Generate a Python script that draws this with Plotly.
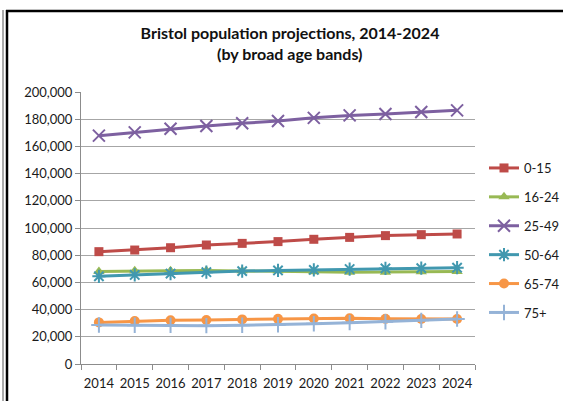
import plotly.graph_objects as go

years = ["2014", "2015", "2016", "2017", "2018", "2019", "2020", "2021", "2022", "2023", "2024"]
age_0_15 = [82600, 83800, 85500, 87500, 88700, 90000, 91700, 93100, 94400, 95100, 95600]
age_16_24 = [68000, 68500, 68500, 68700, 68500, 68500, 67800, 67500, 67500, 67800, 68000]
age_25_49 = [167900, 170300, 173000, 175000, 177000, 178700, 181000, 182800, 183800, 185300, 186500]
age_50_64 = [64500, 65500, 66500, 67500, 68300, 68800, 69200, 69800, 70300, 70500, 70800]
age_65_74 = [30600, 31600, 32200, 32400, 32800, 33200, 33500, 33700, 33200, 33100, 33100]
age_75p = [28700, 28500, 28500, 28200, 28500, 28900, 29600, 30400, 31100, 32100, 33100]

title_line1 = "Bristol population projections, 2014-2024"
title_line2 = "(by broad age bands)"

series = [
    ("0-15", age_0_15, "#BE4B48", "square", 9, 0),
    ("16-24", age_16_24, "#98B954", "triangle-up", 10, 0),
    ("25-49", age_25_49, "#7D60A0", "x-thin-open", 12, 2),
    ("50-64", age_50_64, "#4198AF", "asterisk-open", 11, 2),
    ("65-74", age_65_74, "#F79646", "circle", 10, 0),
    ("75+", age_75p, "#95B3D7", "cross-thin-open", 11, 2),
]

fig = go.Figure()
for i, (name, vals, col, sym, sz, lw) in enumerate(series):
    mk = dict(symbol=sym, size=sz, color=col)
    if lw:
        mk["line"] = dict(color=col, width=lw)
    fig.add_trace(go.Scatter(
        x=years, y=vals, name=name, mode="lines+markers",
        line=dict(color=col, width=3), marker=mk, legendgroup=str(i)
    ))

L, R, T, B = 81, 475, 92, 364
W, H = 563, 401

def px(x):
    return (x - L) / (R - L)

def py(y):
    return (B - y) / (B - T)

shapes = [
    dict(type="line", xref="paper", yref="paper", x0=px(3), x1=px(3), y0=py(10), y1=py(401),
         line=dict(color="#555555", width=1)),
    dict(type="line", xref="paper", yref="paper", x0=px(7), x1=px(7), y0=py(10), y1=py(401),
         line=dict(color="black", width=2.5)),
    dict(type="line", xref="paper", yref="paper", x0=px(6), x1=px(563), y0=py(11), y1=py(11),
         line=dict(color="black", width=2.5)),
]

tfont = dict(size=16, color="#111111", family="Lato, sans-serif", weight="bold")
annotations = [
    dict(text=title_line2, xref="paper", yref="paper", x=px(290), y=py(53),
         xanchor="center", yanchor="middle", showarrow=False, font=tfont),
]

fig.update_layout(
    width=W, height=H,
    margin=dict(l=L, r=W - R, t=T, b=H - B, autoexpand=False),
    paper_bgcolor="white", plot_bgcolor="white",
    font=dict(family="Lato, 'Open Sans', sans-serif", color="#1a1a1a", size=13),
    title=dict(text=title_line1, x=290 / W, xanchor="center",
               y=1 - 33 / H, yanchor="middle", font=tfont),
    annotations=annotations,
    showlegend=True,
    legend=dict(x=px(484), xanchor="left", y=py(153), yanchor="top",
                font=dict(size=13, color="#1a1a1a"), tracegroupgap=9,
                traceorder="grouped", bgcolor="rgba(0,0,0,0)", itemwidth=30),
    shapes=shapes,
)
fig.update_xaxes(type="category", range=[-0.5, 10.5], showgrid=False, showline=True,
                 linecolor="#8C8C8C", linewidth=1, ticks="outside", ticklen=5,
                 tickcolor="#8C8C8C", tickson="boundaries", tickangle=0,
                 ticklabelstandoff=7, tickfont=dict(size=13))
fig.update_yaxes(range=[0, 200000], dtick=20000, tickformat=",", showgrid=True,
                 gridcolor="#A6A6A6", gridwidth=1, showline=True, linecolor="#8C8C8C",
                 linewidth=1, ticks="outside", ticklen=5, tickcolor="#8C8C8C",
                 tickfont=dict(size=13), zeroline=False)

fig.write_html("out.html")
